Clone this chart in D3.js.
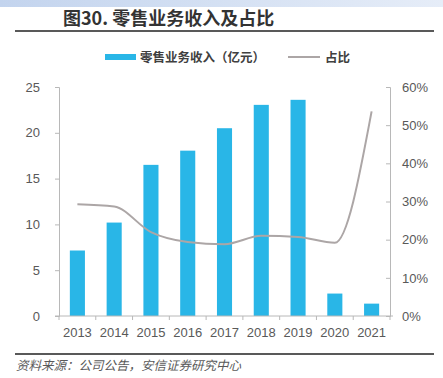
<!DOCTYPE html>
<html><head><meta charset="utf-8">
<script src="https://cdn.jsdelivr.net/npm/d3@7"></script>
<style>html,body{margin:0;padding:0;background:#fff;}svg{display:block;}</style>
</head><body>
<script>
const years = ["2013","2014","2015","2016","2017","2018","2019","2020","2021"];
const revenue = [7.15, 10.2, 16.5, 18.05, 20.5, 23.05, 23.6, 2.45, 1.35];
const share = [0.293, 0.287, 0.220, 0.194, 0.188, 0.210, 0.207, 0.192, 0.536];
const leftTicks = [0,5,10,15,20,25];
const rightTicks = [0,0.1,0.2,0.3,0.4,0.5,0.6];
const titleText = "图30. 零售业务收入及占比";
const legendBar = "零售业务收入（亿元）";
const legendLine = "占比";
const sourceText = "资料来源：公司公告，安信证券研究中心";

(function(){
const W=443,H=378;
const svg=d3.select("body").append("svg").attr("width",W).attr("height",H);
const defs=svg.append("defs");
const g=defs.append("linearGradient").attr("id","band").attr("x1","0").attr("x2","1");
g.append("stop").attr("offset","0").attr("stop-color","#c3d4ee");
g.append("stop").attr("offset","1").attr("stop-color","#e6edf8");
svg.append("rect").attr("x",0).attr("y",0).attr("width",W).attr("height",7).attr("fill","url(#band)");

svg.append("text").attr("x",63).attr("y",25).text(titleText)
  .attr("font-family","'Noto Sans CJK SC'").attr("font-weight","bold").attr("font-size",18).attr("fill","#333");
svg.append("rect").attr("x",15).attr("y",30).attr("width",419).attr("height",2).attr("fill","#595959");

const pl=59,pr=390,pt=87,pb=316;
const x=d3.scaleBand().domain(years).range([pl,pr]).padding(0);
const y=d3.scaleLinear().domain([0,25]).range([pb,pt]);
const y2=d3.scaleLinear().domain([0,0.6]).range([pb,pt]);
const bw=x.bandwidth()*0.41;
const tickFont="'Liberation Sans', Arial, sans-serif";

svg.append("g").selectAll("rect").data(years).join("rect")
  .attr("x",d=>x(d)+x.bandwidth()/2-bw/2)
  .attr("y",(d,i)=>y(revenue[i]))
  .attr("width",bw)
  .attr("height",(d,i)=>pb-y(revenue[i]))
  .attr("fill","#29b6e7");

const axL=svg.append("g").attr("transform",`translate(${pl},0)`)
  .call(d3.axisLeft(y).tickValues(leftTicks).tickSize(4).tickPadding(15));
const axR=svg.append("g").attr("transform",`translate(${pr},0)`)
  .call(d3.axisRight(y2).tickValues(rightTicks).tickSize(-4).tickPadding(12).tickFormat(d3.format(".0%")));
[axL,axR].forEach(a=>{
  a.select(".domain").attr("stroke","#b8b8b8").attr("stroke-width",1);
  a.selectAll(".tick line").attr("stroke","#b8b8b8");
  a.selectAll("text").attr("font-family",tickFont).attr("font-size",13).attr("fill","#595959");
});
const axB=svg.append("g").attr("transform",`translate(0,${pb})`);
axB.append("line").attr("x1",pl-4).attr("x2",pr+3).attr("y1",0).attr("y2",0).attr("stroke","#b8b8b8");
axB.selectAll("line.t").data(years.concat(["end"])).join("line").attr("class","t")
  .attr("x1",(d,i)=>pl+i*x.step()).attr("x2",(d,i)=>pl+i*x.step())
  .attr("y1",0).attr("y2",4).attr("stroke","#b8b8b8");
axB.selectAll("text").data(years).join("text")
  .attr("x",d=>x(d)+x.bandwidth()/2).attr("y",21).attr("text-anchor","middle")
  .attr("font-family",tickFont).attr("font-size",13).attr("fill","#595959").text(d=>d);

const line=d3.line().x((d,i)=>x(years[i])+x.bandwidth()/2).y(d=>y2(d)).curve(d3.curveMonotoneX);
svg.append("path").datum(share).attr("d",line).attr("fill","none").attr("stroke","#aca6a6").attr("stroke-width",2);

svg.append("rect").attr("x",105).attr("y",54).attr("width",31).attr("height",6).attr("fill","#29b6e7");
svg.append("text").attr("x",140).attr("y",62).text(legendBar)
  .attr("font-family","'Noto Sans CJK SC'").attr("font-weight","bold").attr("font-size",12.5).attr("fill","#404040");
svg.append("line").attr("x1",288).attr("x2",320).attr("y1",57).attr("y2",57).attr("stroke","#aca6a6").attr("stroke-width",2);
svg.append("text").attr("x",325).attr("y",62).text(legendLine)
  .attr("font-family","'Noto Sans CJK SC'").attr("font-weight","bold").attr("font-size",12.5).attr("fill","#404040");

svg.append("rect").attr("x",15).attr("y",353).attr("width",419).attr("height",2).attr("fill","#595959");
svg.append("text").attr("x",16).attr("y",370).text(sourceText)
  .attr("font-family","'Noto Sans CJK SC'").attr("font-style","italic").attr("font-size",12.5).attr("fill","#595959");
})();
</script>
</body></html>
